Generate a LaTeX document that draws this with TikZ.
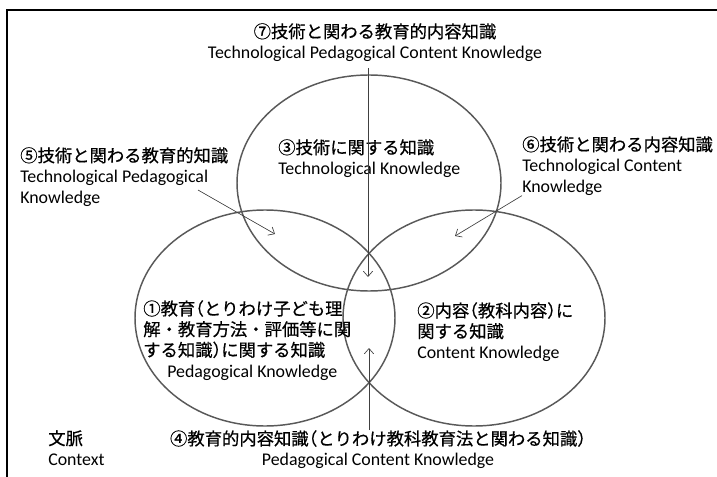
\documentclass[tikz,border=0pt]{standalone}
\usepackage{fontspec}
\setmainfont{Carlito}
\newfontfamily\jp[Scale=0.97, FakeBold=0.6]{Noto Sans CJK JP}
\newcommand\lpar{{\addfontfeatures{RawFeature=+halt}（}}
\newcommand\rpar{{\addfontfeatures{RawFeature=+halt}）}}
\usetikzlibrary{arrows.meta}

\begin{document}
\begin{tikzpicture}[x=0.75pt, y=-0.75pt,
    ring/.style={draw=black!65, line width=1.1pt},
    pointer/.style={draw=black!75, line width=0.5pt, -{Straight Barb[length=4pt, width=7pt]}},
    lbl/.style={inner sep=0pt, font=\fontsize{13.4}{15.5}\selectfont}]
    \useasboundingbox (0,0) rectangle (717,477);
    \draw[line width=1.1pt] (717,10) -- (7,10) -- (7,477);

    \draw[ring] (369,183) ellipse [x radius=132, y radius=108];
    \draw[ring] (265,318) ellipse [x radius=130, y radius=108];
    \draw[ring] (474,318) ellipse [x radius=131, y radius=108];

    \node (tpck) at (375,23) [lbl, anchor=north, align=center] {{\jp ⑦技術と関わる教育的内容知識}\\Technological Pedagogical Content Knowledge};
    \node (tk) at (278,139) [lbl, anchor=north west, align=left] {{\jp ③技術に関する知識}\\Technological Knowledge};
    \node (tpk) at (20,147) [lbl, anchor=north west, align=left] {{\jp ⑤技術と関わる教育的知識}\\Technological Pedagogical\\Knowledge};
    \node (tck) at (522,136) [lbl, anchor=north west, align=left] {{\jp ⑥技術と関わる内容知識}\\Technological Content\\Knowledge};
    \node (pk) at (143,300) [lbl, anchor=north west, align=left] {{\jp ①教育\lpar とりわけ子ども理}\\{\jp 解・教育方法・評価等に関}\\{\jp する知識\rpar に関する知識}\\\hspace*{18pt}Pedagogical Knowledge};
    \node (ck) at (417,302) [lbl, anchor=north west, align=left] {{\jp ②内容\lpar 教科内容\rpar に}\\{\jp 関する知識}\\Content Knowledge};
    \node (pck) at (378,430) [lbl, anchor=north, align=center] {{\jp ④教育的内容知識\lpar とりわけ教科教育法と関わる知識\rpar}\\Pedagogical Content Knowledge};
    \node (ctx) at (48,430) [lbl, anchor=north west, align=left] {{\jp 文脈}\\Context};

    \coordinate (tpckhead) at (368,277);
    \coordinate (pckhead) at (369,348);
    \coordinate (tpkhead) at (275,234);
    \coordinate (tckhead) at (455,236);
    \coordinate (tpktail) at (198,190);

    \draw[pointer, shorten <=4.5pt] (tpck.south -| tpckhead) -- (tpckhead);
    \draw[pointer] (pck.north -| pckhead) -- (pckhead);
    \draw[pointer] (tpktail) -- (tpkhead);
    \draw[pointer] (tck.south west) -- (tckhead);
\end{tikzpicture}
\end{document}
